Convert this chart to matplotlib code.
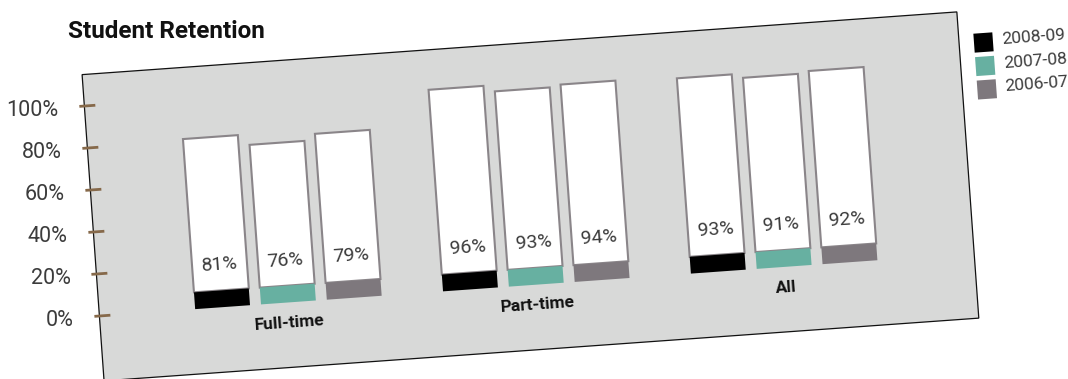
import matplotlib
matplotlib.use("Agg")
import matplotlib.pyplot as plt
import numpy as np
from matplotlib.patches import Rectangle
from matplotlib.transforms import Affine2D, blended_transform_factory

plt.rcParams['font.family'] = ['Roboto', 'DejaVu Sans']

categories = ["Full-time", "Part-time", "All"]
years = ["2008-09", "2007-08", "2006-07"]
rate_2008_09 = [81, 96, 93]
rate_2007_08 = [76, 93, 91]
rate_2006_07 = [79, 94, 92]
year_colors = ["#000000", "#67b0a1", "#7e787d"]
yticks = [0, 20, 40, 60, 80, 100]
ytick_labels = ["0%", "20%", "40%", "60%", "80%", "100%"]

W, H = 1068, 379
TILT = 4.1                       # whole panel is tipped up to the right
ox, oy = 99.4, H - 316           # pixel position of 0% on the axis line
px_per_pct = 2.105
panel_w, v_lo, v_hi = 877, -65, 242
TEXT = "#3c3c3c"

fig = plt.figure(figsize=(W / 100, H / 100), dpi=100)
ax = fig.add_axes([ox / W, (oy + v_lo) / H, panel_w / W, (v_hi - v_lo) / H])
ax.axis("off")

rot = Affine2D().rotate_deg_around(ox, oy, TILT)
tdata = ax.transData + rot
tyaxis = blended_transform_factory(ax.transAxes, ax.transData) + rot

# grey card behind the bars
ax.add_patch(Rectangle((0, 0), 1, 1, transform=ax.transAxes + rot,
                       facecolor="#d8d9d8", edgecolor="#111111", lw=0.9,
                       clip_on=False, zorder=0))

step = 66 / 248.5
width = 55 / 248.5
base = 8
x = np.arange(len(categories))
series = [rate_2008_09, rate_2007_08, rate_2006_07]
for i, (vals, col) in enumerate(zip(series, year_colors)):
    xs = x + (i - 1) * step
    vals = np.array(vals)
    whites = ax.bar(xs, vals - base, bottom=base, width=width, color="white",
                    edgecolor="#8a8589", linewidth=1.5, zorder=2)
    strips = ax.bar(xs, base, width=width, color=col, linewidth=0, zorder=3)
    for p in list(whites) + list(strips):
        p.set_transform(tdata)
        p.set_clip_on(False)
    for xi, v in zip(xs, vals):
        ax.text(xi, 20, f"{v}%", transform=tdata, rotation=TILT,
                rotation_mode="anchor", ha="center", va="center",
                fontsize=14, fontweight="normal", color=TEXT, zorder=4)

for xi, cat in zip(x, categories):
    ax.text(xi, -9.8, cat, transform=tdata, rotation=TILT, rotation_mode="anchor",
            ha="center", va="center", fontsize=12.5, fontweight="bold", color="#111111")

# brown ticks crossing the left edge, labels kept upright
for t, lab in zip(yticks, ytick_labels):
    ax.plot([-5 / panel_w, 11 / panel_w], [t, t], transform=tyaxis,
            color="#86694a", lw=2, solid_capstyle="butt", clip_on=False, zorder=5)
    ax.text(-25.7 / panel_w, t, lab, transform=tyaxis + Affine2D().translate(0, -3),
            ha="right", va="center", fontsize=15.5, fontweight="normal", color=TEXT)

ax.set_xlim(-189.5 / 248.5, (panel_w - 189.5) / 248.5)
ax.set_ylim(v_lo / px_per_pct, v_hi / px_per_pct)

# legend, tipped like the panel
lx, ly = 983.5, H - 42.5
leg = Affine2D().rotate_deg_around(lx, ly, TILT)
for k, (yr, col) in enumerate(zip(years, year_colors)):
    cy = ly - k * 23.5
    fig.add_artist(Rectangle((lx - 9.5, cy - 9.5), 19, 19, transform=leg,
                             facecolor=col, edgecolor="none"))
    fig.text(lx + 18.6, cy + 1.5, yr, transform=leg, rotation=TILT,
             rotation_mode="anchor", ha="left", va="center",
             fontsize=12.5, fontweight="normal", color=TEXT)

fig.text(68 / W, 1 - 32 / H, "Student Retention", ha="left", va="center",
         fontsize=17.5, fontweight="bold", color="#111111")

fig.savefig("out.png", dpi=100)
